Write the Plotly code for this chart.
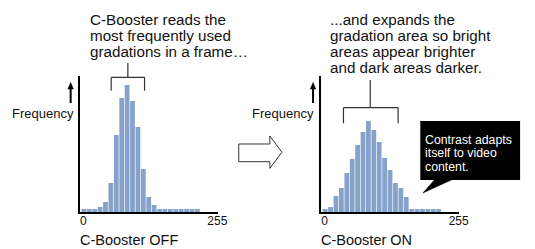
import plotly.graph_objects as go

# ---------------- data ----------------
bins = list(range(22))
freq_off = [3, 3, 3, 5, 10, 29, 77, 114, 127, 111, 85, 43, 15, 7, 3, 3, 3, 3, 3, 3, 3, 3]
freq_on = [3, 5, 16, 24, 39, 53, 67, 80, 91, 82, 70, 54, 42, 29, 24, 15, 3, 3, 3, 3, 3, 3]
tick_labels = ["0", "255"]
title_off = "C-Booster OFF"
title_on = "C-Booster ON"
y_label = "Frequency"
text_off = ["C-Booster reads the", "most frequently used", "gradations in a frame…"]
text_on = ["...and expands the", "gradation area so bright", "areas appear brighter", "and dark areas darker."]
callout = ["Contrast adapts", "itself to video", "content."]

# ---------------- layout helpers ----------------
W, H = 535, 249
FONT = "Liberation Sans, Arial, Helvetica, sans-serif"
BAR = "#86a2ca"
INK = "#111111"


def px(x):
    return x / W


def py(y):
    return 1 - y / H


BINPX = 5.51
X0 = -0.68
AX_BOTTOM = 212
AX_TOP = 76
LEFT_L, LEFT_R = 81.7, 222.0
RIGHT_L = 327.6
RIGHT_R = RIGHT_L + (LEFT_R - LEFT_L)
X1 = X0 + (LEFT_R - LEFT_L) / BINPX
tickpos = [X0 + (85 - LEFT_L) / BINPX, X0 + (221.5 - LEFT_L) / BINPX]

fig = go.Figure()
fig.add_trace(go.Bar(x=bins, y=freq_off, marker=dict(color=BAR, line=dict(width=0)),
                     xaxis="x", yaxis="y", showlegend=False, hoverinfo="skip"))
fig.add_trace(go.Bar(x=bins, y=freq_on, marker=dict(color=BAR, line=dict(width=0)),
                     xaxis="x2", yaxis="y2", showlegend=False, hoverinfo="skip"))

ydom = [py(AX_BOTTOM), py(AX_TOP)]
xcommon = dict(range=[X0, X1], showgrid=False, zeroline=False, showline=True,
               linecolor="black", linewidth=1.5, ticks="", tickvals=tickpos,
               ticktext=tick_labels, tickfont=dict(family=FONT, size=12, color=INK),
               ticklabelstandoff=-3, fixedrange=True)
ycommon = dict(range=[0, AX_BOTTOM - AX_TOP], domain=ydom, showgrid=False, zeroline=False,
               showline=True, linecolor="black", linewidth=1.5, ticks="",
               showticklabels=False, fixedrange=True)

fig.update_layout(
    width=W, height=H, margin=dict(l=0, r=0, t=0, b=0),
    paper_bgcolor="white", plot_bgcolor="white", bargap=0.12,
    xaxis=dict(domain=[px(LEFT_L), px(LEFT_R)], anchor="y", **xcommon),
    yaxis=dict(anchor="x", **ycommon),
    xaxis2=dict(domain=[px(RIGHT_L), px(RIGHT_R)], anchor="y2", **xcommon),
    yaxis2=dict(anchor="x2", **ycommon),
    font=dict(family=FONT, color=INK),
)

ann = []


def txt(x, y, s, size=14, color=INK, xanchor="left"):
    ann.append(dict(x=px(x), y=py(y), xref="paper", yref="paper", text=s, showarrow=False,
                    xanchor=xanchor, yanchor="middle", borderpad=0,
                    font=dict(family=FONT, size=size, color=color)))


for i, s in enumerate(text_off):
    txt(90.5, 19.5 + 16 * i, s, size=15.2)
for i, s in enumerate(text_on):
    txt(335.5, 19.5 + 16 * i, s, size=15.2)
for i, s in enumerate(callout):
    txt(432.0, 139.5 + 13.6 * i, s, size=12.3, color="white")
txt(76.0, 113, y_label, size=13, xanchor="right")
txt(321.5, 113, y_label, size=13, xanchor="right")
txt(80.5, 240, title_off, size=14.5)
txt(326.3, 240, title_on, size=14.5)

shapes = []
LC = "#333333"


def line(x0, y0, x1, y1, w=1.2, c=LC):
    shapes.append(dict(type="line", xref="paper", yref="paper", x0=px(x0), y0=py(y0),
                       x1=px(x1), y1=py(y1), line=dict(color=c, width=w)))


def poly(pts, fill, lc, w=1):
    d = "M " + " L ".join(f"{px(a):.5f},{py(b):.5f}" for a, b in pts) + " Z"
    shapes.append(dict(type="path", xref="paper", yref="paper", path=d, fillcolor=fill,
                       line=dict(color=lc, width=w)))


# brackets
line(130.3, 63, 130.3, 77.3)
line(113.3, 77.3, 147.3, 77.3)
line(113.3, 77.3, 113.3, 90.7)
line(147.3, 77.3, 147.3, 90.7)
line(377.3, 80, 377.3, 107.7)
line(350, 107.7, 405.7, 107.7)
line(350, 107.7, 350, 123.3)
line(405.7, 107.7, 405.7, 123.3)

# up arrows
for ax_ in (72.0, 319.0):
    line(ax_, 103, ax_, 88, w=2, c="black")
    poly([(ax_ - 2.8, 89), (ax_ + 2.8, 89), (ax_, 82.5)], "black", "black", 0.5)

# hollow arrow
poly([(243.3, 144), (275, 144), (275, 136), (287.3, 152.3), (275, 168.3), (275, 161.7), (243.3, 161.7)],
     "white", "#333333", 1)

# callout box
shapes.append(dict(type="rect", xref="paper", yref="paper", x0=px(428.3), x1=px(530),
                   y0=py(180), y1=py(121), fillcolor="black", line=dict(width=0)))
poly([(443, 179.5), (461, 179.5), (431, 193)], "black", "black", 0.5)

fig.update_layout(annotations=ann, shapes=shapes)
fig.write_html("out.html", config={"displayModeBar": False},
               post_script="document.body.style.margin='0';document.body.style.overflow='hidden';")
